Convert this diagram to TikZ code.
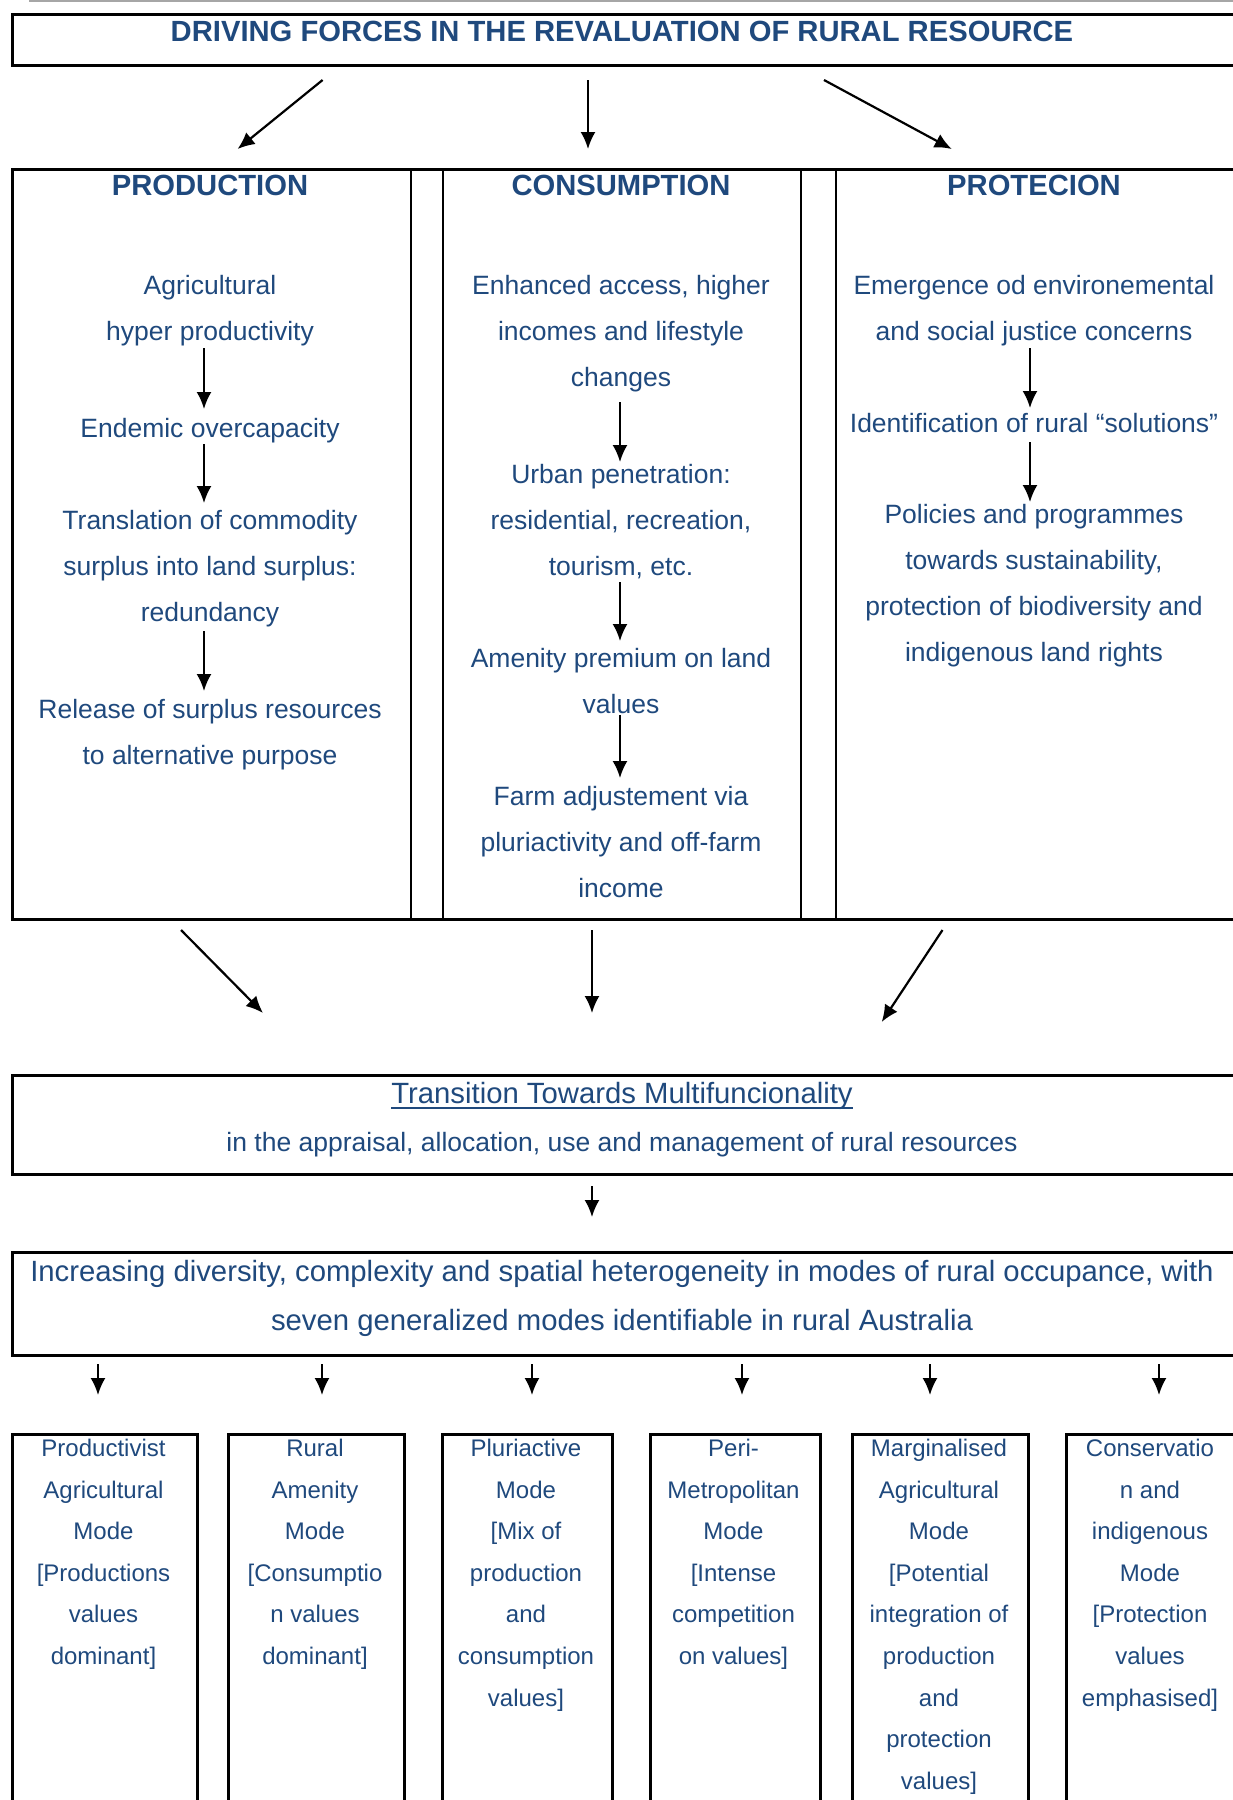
\documentclass[tikz,border=0pt]{standalone}
\usepackage{fontspec}
\setmainfont{Liberation Sans}
\usetikzlibrary{arrows.meta}
\definecolor{txt}{RGB}{31,73,125}
\begin{document}
\begin{tikzpicture}[x=1pt,y=-1pt,
  box/.style={draw=black, line width=2.6pt, rectangle, inner sep=0pt, anchor=north west},
  colbox/.style={draw=black, line width=2pt, rectangle, inner sep=0pt, anchor=north west},
  body/.style={text=txt, font=\fontsize{26.5}{46}\selectfont, align=center, anchor=base, inner sep=0pt},
  head/.style={text=txt, font=\bfseries\fontsize{29.2}{35}\selectfont, anchor=base, inner sep=0pt},
  small/.style={text=txt, font=\fontsize{24}{41.6}\selectfont, align=center, anchor=base, inner sep=0pt},
  big/.style={text=txt, font=\fontsize{29.3}{49}\selectfont, align=center, anchor=base, inner sep=0pt},
  arr/.style={line width=2.2pt, -{Latex[length=17pt,width=15pt]}},
]
\useasboundingbox (0,0) rectangle (1233,1800);
\clip (0,0) rectangle (1233,1800);
\fill[white] (0,0) rectangle (1233,1800);
\draw[gray!70, line width=1.5pt] (29,1) -- (1240,1);

% boxes
\node[box, minimum width=1229pt, minimum height=51pt] (titlebox) at (11,13) {};
\node[colbox, minimum width=399pt, minimum height=750pt] (prodbox) at (11,168) {};
\node[colbox, minimum width=32pt, minimum height=750pt] (gap1) at (410,168) {};
\node[colbox, minimum width=358pt, minimum height=750pt] (consbox) at (442,168) {};
\node[colbox, minimum width=35pt, minimum height=750pt] (gap2) at (800,168) {};
\node[colbox, minimum width=405pt, minimum height=750pt] (protbox) at (835,168) {};
\node[box, minimum width=1229pt, minimum height=750pt] (coltable) at (11,168) {};
\node[box, minimum width=1229pt, minimum height=99pt] (transbox) at (11,1074) {};
\node[box, minimum width=1229pt, minimum height=103pt] (incrbox) at (11,1251) {};
\node[box, minimum width=185pt, minimum height=400pt] (m1box) at (11,1433) {};
\node[box, minimum width=176pt, minimum height=400pt] (m2box) at (227,1433) {};
\node[box, minimum width=170pt, minimum height=400pt] (m3box) at (441,1433) {};
\node[box, minimum width=170pt, minimum height=400pt] (m4box) at (649,1433) {};
\node[box, minimum width=176pt, minimum height=400pt] (m5box) at (851,1433) {};
\node[box, minimum width=180pt, minimum height=400pt] (m6box) at (1065,1433) {};

% headings
\node[head] (title) at (622,41) {DRIVING FORCES IN THE REVALUATION OF RURAL RESOURCE};
\node[head] (prodH) at (210,195) {PRODUCTION};
\node[head] (consH) at (621,195) {CONSUMPTION};
\node[head] (protH) at (1034,195) {PROTECION};

% (multi-line nodes are placed at the baseline of their last line)
% production column
\node[body] (p1) at (210,340) {Agricultural\\hyper productivity};
\node[body] (p2) at (210,437) {Endemic overcapacity};
\node[body] (p3) at (210,621.5) {Translation of commodity\\surplus into land surplus:\\redundancy};
\node[body] (p4) at (210,764.5) {Release of surplus resources\\to alternative purpose};

% consumption column
\node[body] (c1) at (621,386) {Enhanced access, higher\\incomes and lifestyle\\changes};
\node[body] (c2) at (621,575.5) {Urban penetration:\\residential, recreation,\\tourism, etc.};
\node[body] (c3) at (621,713.5) {Amenity premium on land\\values};
\node[body] (c4) at (621,897.5) {Farm adjustement via\\pluriactivity and off-farm\\income};

% protection column
\node[body] (r1) at (1034,340) {Emergence od environemental\\and social justice concerns};
\node[body] (r2) at (1034,432) {Identification of rural “solutions”};
\node[body] (r3) at (1034,661.5) {Policies and programmes\\towards sustainability,\\protection of biodiversity and\\indigenous land rights};

% transition
\node[big] (trans) at (622,1103) {Transition Towards Multifuncionality};
\draw[txt, line width=2pt] ([yshift=-4.7pt]trans.base west) -- ([yshift=-4.7pt]trans.base east);
\node[body] (trans2) at (622,1151) {in the appraisal, allocation, use and management of rural resources};

% increasing
\node[big] (incr) at (622,1330.5) {Increasing diversity, complexity and spatial heterogeneity in modes of rural occupance, with\\seven generalized modes identifiable in rural Australia};

% modes
\node[small] (m1) at (103.5,1664.5) {Productivist\\Agricultural\\Mode\\{[}Productions\\values\\dominant]};
\node[small] (m2) at (315,1664.5) {Rural\\Amenity\\Mode\\{[}Consumptio\\n values\\dominant]};
\node[small] (m3) at (526,1706.1) {Pluriactive\\Mode\\{[}Mix of\\production\\and\\consumption\\values]};
\node[small] (m4) at (733.5,1664.5) {Peri-\\Metropolitan\\Mode\\{[}Intense\\competition\\on values]};
\node[small] (m5) at (939,1789.3) {Marginalised\\Agricultural\\Mode\\{[}Potential\\integration of\\production\\and\\protection\\values]};
\node[small] (m6) at (1150,1706.1) {Conservatio\\n and\\indigenous\\Mode\\{[}Protection\\values\\emphasised]};

% arrow end points
\coordinate (ta1) at (322.6,80);  \coordinate (tb1) at (237.6,149);
\coordinate (ta2) at (588,80);    \coordinate (tb2) at (588,149);
\coordinate (ta3) at (824,80);    \coordinate (tb3) at (951.7,149);
\coordinate (pa1) at (204,348);   \coordinate (pb1) at (204,409);
\coordinate (pa2) at (204,444);   \coordinate (pb2) at (204,503);
\coordinate (pa3) at (204,631);   \coordinate (pb3) at (204,691);
\coordinate (ca1) at (620,402);   \coordinate (cb1) at (620,462);
\coordinate (ca2) at (620,582);   \coordinate (cb2) at (620,641);
\coordinate (ca3) at (620,715);   \coordinate (cb3) at (620,778);
\coordinate (ra1) at (1030,348);  \coordinate (rb1) at (1030,408);
\coordinate (ra2) at (1030,442);  \coordinate (rb2) at (1030,502);
\coordinate (la1) at (181,930);   \coordinate (lb1) at (263,1013);
\coordinate (la2) at (592,930);   \coordinate (lb2) at (592,1013);
\coordinate (la3) at (942.5,930); \coordinate (lb3) at (881.7,1022);
\coordinate (xa) at (592,1186);   \coordinate (xb) at (592,1217);
\foreach \i/\x in {1/98,2/322,3/532,4/742,5/930,6/1159}{
  \coordinate (ma\i) at (\x,1364); \coordinate (mb\i) at (\x,1395);
}

% arrows
\foreach \a/\b in {ta1/tb1,ta2/tb2,ta3/tb3,pa1/pb1,pa2/pb2,pa3/pb3,ca1/cb1,ca2/cb2,ca3/cb3,ra1/rb1,ra2/rb2,la1/lb1,la2/lb2,la3/lb3,xa/xb,ma1/mb1,ma2/mb2,ma3/mb3,ma4/mb4,ma5/mb5,ma6/mb6}{
  \draw[arr] (\a) -- (\b);
}
\end{tikzpicture}
\end{document}
